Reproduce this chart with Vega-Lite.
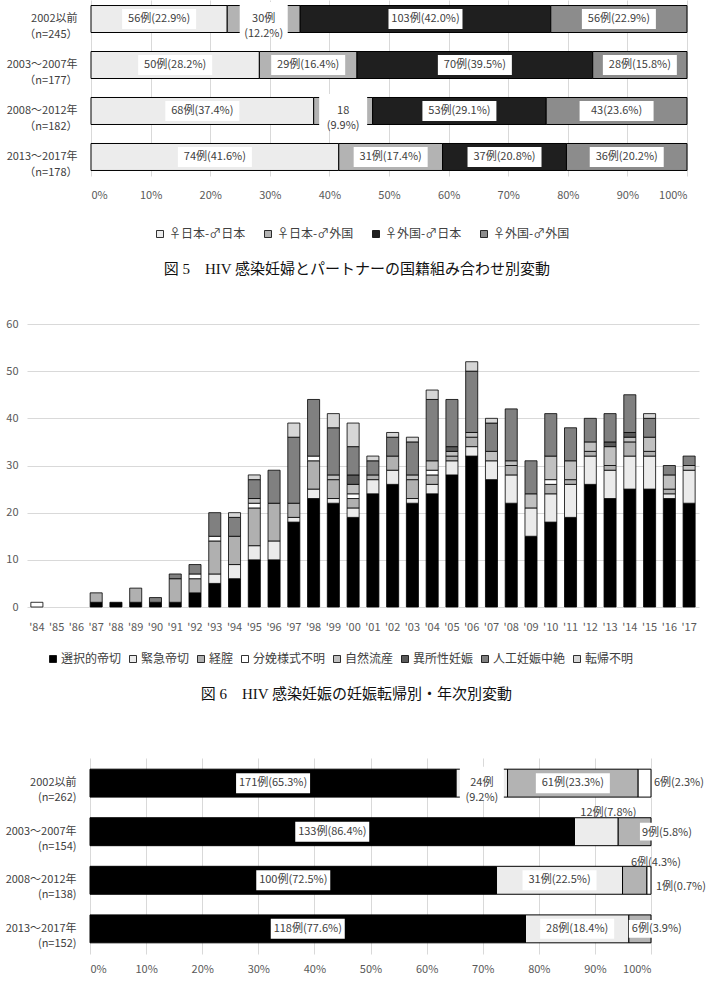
{
"$schema": "https://vega.github.io/schema/vega-lite/v6.json",
"padding": {"left": 5, "right": 0, "top": 0, "bottom": 0},
"background": "white",
"config": {
  "font": "Noto Sans CJK JP",
  "view": {"stroke": null},
  "axis": {"domain": false, "ticks": false, "labelColor": "#595959", "labelFontSize": 11, "gridColor": "#d9d9d9", "gridWidth": 1},
  "legend": {"direction": "horizontal", "symbolType": "square", "symbolSize": 49, "symbolStrokeColor": "#000", "symbolStrokeWidth": 0.8, "labelFontSize": 12, "labelColor": "#404040", "labelOffset": 3, "padding": 0}
},
"columns": 1,
"spacing": 41,
"resolve": {"scale": {"color": "independent"}, "legend": {"color": "independent"}},
"concat": [
{
  "width": 660, "height": 176,
  "data": {"values": [
    {"p": "2002以前|（n=245）", "c": "♀日本-♂日本", "n": 56, "lab": "56例(22.9%)"},
    {"p": "2002以前|（n=245）", "c": "♀日本-♂外国", "n": 30, "lab": ["30例", "(12.2%)"]},
    {"p": "2002以前|（n=245）", "c": "♀外国-♂日本", "n": 103, "lab": "103例(42.0%)"},
    {"p": "2002以前|（n=245）", "c": "♀外国-♂外国", "n": 56, "lab": "56例(22.9%)"},
    {"p": "2003～2007年|（n=177）", "c": "♀日本-♂日本", "n": 50, "lab": "50例(28.2%)"},
    {"p": "2003～2007年|（n=177）", "c": "♀日本-♂外国", "n": 29, "lab": "29例(16.4%)"},
    {"p": "2003～2007年|（n=177）", "c": "♀外国-♂日本", "n": 70, "lab": "70例(39.5%)"},
    {"p": "2003～2007年|（n=177）", "c": "♀外国-♂外国", "n": 28, "lab": "28例(15.8%)"},
    {"p": "2008～2012年|（n=182）", "c": "♀日本-♂日本", "n": 68, "lab": "68例(37.4%)"},
    {"p": "2008～2012年|（n=182）", "c": "♀日本-♂外国", "n": 18, "lab": ["18", "(9.9%)"]},
    {"p": "2008～2012年|（n=182）", "c": "♀外国-♂日本", "n": 53, "lab": "53例(29.1%)"},
    {"p": "2008～2012年|（n=182）", "c": "♀外国-♂外国", "n": 43, "lab": "43(23.6%)"},
    {"p": "2013～2017年|（n=178）", "c": "♀日本-♂日本", "n": 74, "lab": "74例(41.6%)"},
    {"p": "2013～2017年|（n=178）", "c": "♀日本-♂外国", "n": 31, "lab": "31例(17.4%)"},
    {"p": "2013～2017年|（n=178）", "c": "♀外国-♂日本", "n": 37, "lab": "37例(20.8%)"},
    {"p": "2013～2017年|（n=178）", "c": "♀外国-♂外国", "n": 36, "lab": "36例(20.2%)"}
  ]},
  "transform": [
    {"calculate": "indexof(['♀日本-♂日本','♀日本-♂外国','♀外国-♂日本','♀外国-♂外国'], datum.c)", "as": "k"},
    {"stack": "n", "groupby": ["p"], "sort": [{"field": "k", "order": "ascending"}], "offset": "normalize", "as": ["x0", "x1"]},
    {"calculate": "(datum.x0 + datum.x1) / 2", "as": "xm"}
  ],
  "title": {"text": "図 5　HIV 感染妊婦とパートナーの国籍組み合わせ別変動", "orient": "bottom", "anchor": "middle", "frame": "bounds", "fontSize": 15, "fontWeight": "normal", "color": "#111111", "offset": 22, "dx": 10, "font": "Liberation Serif, Noto Sans CJK JP"},
  "encoding": {
    "y": {"field": "p", "type": "nominal", "sort": null, "scale": {"paddingInner": 0.413, "paddingOuter": 0.12}, "axis": {"title": null, "offset": -64, "labelExpr": "split(datum.label, '|')", "labelPadding": 14, "labelColor": "#404040", "labelLineHeight": 16}}
  },
  "layer": [
    {"mark": {"type": "bar", "stroke": "#000", "strokeWidth": 1},
     "encoding": {
       "x": {"field": "x0", "type": "quantitative", "scale": {"domain": [0, 1], "range": [64, 660]}, "axis": {"title": null, "format": ".0%", "values": [0, 0.1, 0.2, 0.3, 0.4, 0.5, 0.6, 0.7, 0.8, 0.9, 1], "grid": true, "labelPadding": 13}},
       "x2": {"field": "x1"},
       "color": {"field": "c", "type": "nominal", "scale": {"domain": ["♀日本-♂日本", "♀日本-♂外国", "♀外国-♂日本", "♀外国-♂外国"], "range": ["#ececec", "#b3b3b3", "#1f1f1f", "#8c8c8c"]}, "legend": {"title": null, "orient": "none", "legendX": 127, "legendY": 228, "columnPadding": 16}}
     }},
    {"transform": [{"filter": "!isArray(datum.lab)"}],
     "mark": {"type": "point", "shape": "M-1,-0.27H1V0.27H-1Z", "size": 5476, "filled": true, "fill": "#ffffff", "strokeWidth": 0, "opacity": 1},
     "encoding": {"x": {"field": "xm", "type": "quantitative", "axis": {"title": null}}}},
    {"transform": [{"filter": "isArray(datum.lab)"}],
     "mark": {"type": "point", "shape": "M-1,-0.71H1V0.71H-1Z", "size": 2304, "filled": true, "fill": "#ffffff", "strokeWidth": 0, "opacity": 1},
     "encoding": {"x": {"field": "xm", "type": "quantitative", "axis": {"title": null}}}},
    {"mark": {"type": "text", "fontSize": 11, "color": "#404040", "lineHeight": 15},
     "encoding": {"x": {"field": "xm", "type": "quantitative", "axis": {"title": null}}, "text": {"field": "lab"}}}
  ]
},
{
  "columns": 1,
  "spacing": 56,
  "resolve": {"scale": {"color": "independent"}, "legend": {"color": "independent"}},
  "concat": [
  {
    "width": 672, "height": 283,
    "data": {"values": [
      {"y": "'84", "c": "分娩様式不明", "n": 1},
      {"y": "'87", "c": "選択的帝切", "n": 1}, {"y": "'87", "c": "経腟", "n": 2},
      {"y": "'88", "c": "選択的帝切", "n": 1},
      {"y": "'89", "c": "選択的帝切", "n": 1}, {"y": "'89", "c": "経腟", "n": 3},
      {"y": "'90", "c": "選択的帝切", "n": 1}, {"y": "'90", "c": "人工妊娠中絶", "n": 1},
      {"y": "'91", "c": "選択的帝切", "n": 1}, {"y": "'91", "c": "経腟", "n": 5}, {"y": "'91", "c": "人工妊娠中絶", "n": 1},
      {"y": "'92", "c": "選択的帝切", "n": 3}, {"y": "'92", "c": "経腟", "n": 3}, {"y": "'92", "c": "分娩様式不明", "n": 1}, {"y": "'92", "c": "人工妊娠中絶", "n": 2},
      {"y": "'93", "c": "選択的帝切", "n": 5}, {"y": "'93", "c": "緊急帝切", "n": 2}, {"y": "'93", "c": "経腟", "n": 7}, {"y": "'93", "c": "分娩様式不明", "n": 1}, {"y": "'93", "c": "人工妊娠中絶", "n": 5},
      {"y": "'94", "c": "選択的帝切", "n": 6}, {"y": "'94", "c": "緊急帝切", "n": 3}, {"y": "'94", "c": "経腟", "n": 6}, {"y": "'94", "c": "人工妊娠中絶", "n": 4}, {"y": "'94", "c": "転帰不明", "n": 1},
      {"y": "'95", "c": "選択的帝切", "n": 10}, {"y": "'95", "c": "緊急帝切", "n": 3}, {"y": "'95", "c": "経腟", "n": 8}, {"y": "'95", "c": "分娩様式不明", "n": 1}, {"y": "'95", "c": "自然流産", "n": 1}, {"y": "'95", "c": "人工妊娠中絶", "n": 4}, {"y": "'95", "c": "転帰不明", "n": 1},
      {"y": "'96", "c": "選択的帝切", "n": 10}, {"y": "'96", "c": "緊急帝切", "n": 4}, {"y": "'96", "c": "経腟", "n": 8}, {"y": "'96", "c": "人工妊娠中絶", "n": 7},
      {"y": "'97", "c": "選択的帝切", "n": 18}, {"y": "'97", "c": "緊急帝切", "n": 1}, {"y": "'97", "c": "経腟", "n": 3}, {"y": "'97", "c": "人工妊娠中絶", "n": 14}, {"y": "'97", "c": "転帰不明", "n": 3},
      {"y": "'98", "c": "選択的帝切", "n": 23}, {"y": "'98", "c": "緊急帝切", "n": 2}, {"y": "'98", "c": "経腟", "n": 6}, {"y": "'98", "c": "分娩様式不明", "n": 1}, {"y": "'98", "c": "人工妊娠中絶", "n": 12},
      {"y": "'99", "c": "選択的帝切", "n": 22}, {"y": "'99", "c": "緊急帝切", "n": 1}, {"y": "'99", "c": "経腟", "n": 4}, {"y": "'99", "c": "自然流産", "n": 1}, {"y": "'99", "c": "人工妊娠中絶", "n": 10}, {"y": "'99", "c": "転帰不明", "n": 3},
      {"y": "'00", "c": "選択的帝切", "n": 19}, {"y": "'00", "c": "緊急帝切", "n": 2}, {"y": "'00", "c": "経腟", "n": 2}, {"y": "'00", "c": "分娩様式不明", "n": 1}, {"y": "'00", "c": "自然流産", "n": 2}, {"y": "'00", "c": "異所性妊娠", "n": 2}, {"y": "'00", "c": "人工妊娠中絶", "n": 6}, {"y": "'00", "c": "転帰不明", "n": 5},
      {"y": "'01", "c": "選択的帝切", "n": 24}, {"y": "'01", "c": "緊急帝切", "n": 3}, {"y": "'01", "c": "経腟", "n": 1}, {"y": "'01", "c": "人工妊娠中絶", "n": 3}, {"y": "'01", "c": "転帰不明", "n": 1},
      {"y": "'02", "c": "選択的帝切", "n": 26}, {"y": "'02", "c": "緊急帝切", "n": 3}, {"y": "'02", "c": "経腟", "n": 3}, {"y": "'02", "c": "人工妊娠中絶", "n": 4}, {"y": "'02", "c": "転帰不明", "n": 1},
      {"y": "'03", "c": "選択的帝切", "n": 22}, {"y": "'03", "c": "緊急帝切", "n": 1}, {"y": "'03", "c": "経腟", "n": 4}, {"y": "'03", "c": "自然流産", "n": 1}, {"y": "'03", "c": "人工妊娠中絶", "n": 7}, {"y": "'03", "c": "転帰不明", "n": 1},
      {"y": "'04", "c": "選択的帝切", "n": 24}, {"y": "'04", "c": "緊急帝切", "n": 2}, {"y": "'04", "c": "経腟", "n": 2}, {"y": "'04", "c": "分娩様式不明", "n": 1}, {"y": "'04", "c": "自然流産", "n": 2}, {"y": "'04", "c": "人工妊娠中絶", "n": 13}, {"y": "'04", "c": "転帰不明", "n": 2},
      {"y": "'05", "c": "選択的帝切", "n": 28}, {"y": "'05", "c": "緊急帝切", "n": 3}, {"y": "'05", "c": "経腟", "n": 1}, {"y": "'05", "c": "自然流産", "n": 1}, {"y": "'05", "c": "異所性妊娠", "n": 1}, {"y": "'05", "c": "人工妊娠中絶", "n": 10},
      {"y": "'06", "c": "選択的帝切", "n": 32}, {"y": "'06", "c": "緊急帝切", "n": 2}, {"y": "'06", "c": "経腟", "n": 2}, {"y": "'06", "c": "自然流産", "n": 1}, {"y": "'06", "c": "人工妊娠中絶", "n": 13}, {"y": "'06", "c": "転帰不明", "n": 2},
      {"y": "'07", "c": "選択的帝切", "n": 27}, {"y": "'07", "c": "緊急帝切", "n": 4}, {"y": "'07", "c": "自然流産", "n": 2}, {"y": "'07", "c": "人工妊娠中絶", "n": 6}, {"y": "'07", "c": "転帰不明", "n": 1},
      {"y": "'08", "c": "選択的帝切", "n": 22}, {"y": "'08", "c": "緊急帝切", "n": 6}, {"y": "'08", "c": "経腟", "n": 2}, {"y": "'08", "c": "自然流産", "n": 1}, {"y": "'08", "c": "人工妊娠中絶", "n": 11},
      {"y": "'09", "c": "選択的帝切", "n": 15}, {"y": "'09", "c": "緊急帝切", "n": 6}, {"y": "'09", "c": "自然流産", "n": 3}, {"y": "'09", "c": "人工妊娠中絶", "n": 7},
      {"y": "'10", "c": "選択的帝切", "n": 18}, {"y": "'10", "c": "緊急帝切", "n": 6}, {"y": "'10", "c": "経腟", "n": 2}, {"y": "'10", "c": "分娩様式不明", "n": 1}, {"y": "'10", "c": "自然流産", "n": 5}, {"y": "'10", "c": "人工妊娠中絶", "n": 9},
      {"y": "'11", "c": "選択的帝切", "n": 19}, {"y": "'11", "c": "緊急帝切", "n": 7}, {"y": "'11", "c": "経腟", "n": 1}, {"y": "'11", "c": "自然流産", "n": 4}, {"y": "'11", "c": "人工妊娠中絶", "n": 7},
      {"y": "'12", "c": "選択的帝切", "n": 26}, {"y": "'12", "c": "緊急帝切", "n": 6}, {"y": "'12", "c": "経腟", "n": 1}, {"y": "'12", "c": "自然流産", "n": 2}, {"y": "'12", "c": "人工妊娠中絶", "n": 5},
      {"y": "'13", "c": "選択的帝切", "n": 23}, {"y": "'13", "c": "緊急帝切", "n": 6}, {"y": "'13", "c": "経腟", "n": 1}, {"y": "'13", "c": "自然流産", "n": 4}, {"y": "'13", "c": "異所性妊娠", "n": 1}, {"y": "'13", "c": "人工妊娠中絶", "n": 6},
      {"y": "'14", "c": "選択的帝切", "n": 25}, {"y": "'14", "c": "緊急帝切", "n": 7}, {"y": "'14", "c": "経腟", "n": 3}, {"y": "'14", "c": "自然流産", "n": 1}, {"y": "'14", "c": "異所性妊娠", "n": 1}, {"y": "'14", "c": "人工妊娠中絶", "n": 8},
      {"y": "'15", "c": "選択的帝切", "n": 25}, {"y": "'15", "c": "緊急帝切", "n": 7}, {"y": "'15", "c": "経腟", "n": 1}, {"y": "'15", "c": "自然流産", "n": 3}, {"y": "'15", "c": "人工妊娠中絶", "n": 4}, {"y": "'15", "c": "転帰不明", "n": 1},
      {"y": "'16", "c": "選択的帝切", "n": 23}, {"y": "'16", "c": "緊急帝切", "n": 1}, {"y": "'16", "c": "経腟", "n": 1}, {"y": "'16", "c": "自然流産", "n": 3}, {"y": "'16", "c": "人工妊娠中絶", "n": 2},
      {"y": "'17", "c": "選択的帝切", "n": 22}, {"y": "'17", "c": "緊急帝切", "n": 7}, {"y": "'17", "c": "自然流産", "n": 1}, {"y": "'17", "c": "人工妊娠中絶", "n": 2}
    ]},
    "transform": [
      {"calculate": "indexof(['選択的帝切','緊急帝切','経腟','分娩様式不明','自然流産','異所性妊娠','人工妊娠中絶','転帰不明'], datum.c)", "as": "k"}
    ],
    "title": {"text": "図 6　HIV 感染妊娠の妊娠転帰別・年次別変動", "orient": "bottom", "anchor": "middle", "frame": "bounds", "fontSize": 15, "fontWeight": "normal", "color": "#111111", "offset": 22, "dx": 4, "font": "Liberation Serif, Noto Sans CJK JP"},
    "mark": {"type": "bar", "stroke": "#000", "strokeWidth": 0.8},
    "encoding": {
      "x": {"field": "y", "type": "nominal", "scale": {"domain": ["'84","'85","'86","'87","'88","'89","'90","'91","'92","'93","'94","'95","'96","'97","'98","'99","'00","'01","'02","'03","'04","'05","'06","'07","'08","'09","'10","'11","'12","'13","'14","'15","'16","'17"], "paddingInner": 0.39, "paddingOuter": 0.195}, "axis": {"title": null, "labelAngle": 0, "labelPadding": 14, "grid": false}},
      "y": {"field": "n", "type": "quantitative", "stack": "zero", "scale": {"domain": [0, 60]}, "axis": {"title": null, "values": [0, 10, 20, 30, 40, 50, 60], "grid": true, "labelPadding": 9}},
      "color": {"field": "c", "type": "nominal", "scale": {"domain": ["選択的帝切", "緊急帝切", "経腟", "分娩様式不明", "自然流産", "異所性妊娠", "人工妊娠中絶", "転帰不明"], "range": ["#000000", "#ebebeb", "#b0b0b0", "#ffffff", "#c0c0c0", "#5a5a5a", "#808080", "#d6d6d6"]}, "legend": {"title": null, "orient": "none", "legendX": 20, "legendY": 329, "columnPadding": 5, "labelOffset": 2}},
      "order": {"field": "k", "type": "quantitative", "sort": "ascending"}
    }
  },
  {
    "width": 624, "height": 196,
    "data": {"values": [
      {"p": "2002以前|(n=262)", "c": "選択的帝切", "n": 171, "lab": "171例(65.3%)"},
      {"p": "2002以前|(n=262)", "c": "緊急帝切", "n": 24, "lab": ["24例", "(9.2%)"]},
      {"p": "2002以前|(n=262)", "c": "経腟", "n": 61, "lab": "61例(23.3%)"},
      {"p": "2002以前|(n=262)", "c": "分娩様式不明", "n": 6, "lab": "6例(2.3%)"},
      {"p": "2003～2007年|(n=154)", "c": "選択的帝切", "n": 133, "lab": "133例(86.4%)"},
      {"p": "2003～2007年|(n=154)", "c": "緊急帝切", "n": 12, "lab": "12例(7.8%)"},
      {"p": "2003～2007年|(n=154)", "c": "経腟", "n": 9, "lab": "9例(5.8%)"},
      {"p": "2008～2012年|(n=138)", "c": "選択的帝切", "n": 100, "lab": "100例(72.5%)"},
      {"p": "2008～2012年|(n=138)", "c": "緊急帝切", "n": 31, "lab": "31例(22.5%)"},
      {"p": "2008～2012年|(n=138)", "c": "経腟", "n": 6, "lab": "6例(4.3%)"},
      {"p": "2008～2012年|(n=138)", "c": "分娩様式不明", "n": 1, "lab": "1例(0.7%)"},
      {"p": "2013～2017年|(n=152)", "c": "選択的帝切", "n": 118, "lab": "118例(77.6%)"},
      {"p": "2013～2017年|(n=152)", "c": "緊急帝切", "n": 28, "lab": "28例(18.4%)"},
      {"p": "2013～2017年|(n=152)", "c": "経腟", "n": 6, "lab": "6例(3.9%)"}
    ]},
    "transform": [
      {"calculate": "indexof(['選択的帝切','緊急帝切','経腟','分娩様式不明'], datum.c)", "as": "k"},
      {"stack": "n", "groupby": ["p"], "sort": [{"field": "k", "order": "ascending"}], "offset": "normalize", "as": ["x0", "x1"]},
      {"calculate": "(datum.x0 + datum.x1) / 2", "as": "xm"}
    ],
    "encoding": {
      "y": {"field": "p", "type": "nominal", "sort": null, "scale": {"paddingInner": 0.425, "paddingOuter": 0.23}, "axis": {"title": null, "offset": -63, "labelExpr": "split(datum.label, '|')", "labelPadding": 14, "labelColor": "#404040", "labelLineHeight": 15}}
    },
    "layer": [
      {"mark": {"type": "bar", "stroke": "#000", "strokeWidth": 1},
       "encoding": {
         "x": {"field": "x0", "type": "quantitative", "scale": {"domain": [0, 1], "range": [63, 624]}, "axis": {"title": null, "format": ".0%", "values": [0, 0.1, 0.2, 0.3, 0.4, 0.5, 0.6, 0.7, 0.8, 0.9, 1], "grid": true, "labelPadding": 9}},
         "x2": {"field": "x1"},
         "color": {"field": "c", "type": "nominal", "scale": {"domain": ["選択的帝切", "緊急帝切", "経腟", "分娩様式不明"], "range": ["#000000", "#ececec", "#b3b3b3", "#ffffff"]}, "legend": null}
       }},
      {"transform": [{"filter": "!isArray(datum.lab) && indexof(['6例(2.3%)','12例(7.8%)','9例(5.8%)','6例(4.3%)','1例(0.7%)','6例(3.9%)'], datum.lab) < 0"}],
       "mark": {"type": "point", "shape": "M-1,-0.27H1V0.27H-1Z", "size": 5476, "filled": true, "fill": "#ffffff", "strokeWidth": 0, "opacity": 1},
       "encoding": {"x": {"field": "xm", "type": "quantitative", "axis": {"title": null}}}},
      {"transform": [{"filter": "isArray(datum.lab)"}],
       "mark": {"type": "point", "shape": "M-1,-0.75H1V0.75H-1Z", "size": 1936, "filled": true, "fill": "#ffffff", "strokeWidth": 0, "opacity": 1},
       "encoding": {"x": {"field": "xm", "type": "quantitative", "axis": {"title": null}}}},
      {"transform": [{"filter": "indexof(['6例(2.3%)','12例(7.8%)','9例(5.8%)','6例(4.3%)','1例(0.7%)','6例(3.9%)'], datum.lab) < 0"}],
       "mark": {"type": "text", "fontSize": 11, "color": "#404040", "lineHeight": 15},
       "encoding": {"x": {"field": "xm", "type": "quantitative", "axis": {"title": null}}, "text": {"field": "lab"}}},
      {"transform": [{"filter": "datum.lab == '9例(5.8%)'"}],
       "mark": {"type": "point", "shape": "M-0.41,-0.33H1.6V0.33H-0.41Z", "size": 2916, "filled": true, "fill": "#ffffff", "strokeWidth": 0, "opacity": 1},
       "encoding": {"x": {"field": "x1", "type": "quantitative", "axis": {"title": null}}}},
      {"transform": [{"filter": "datum.lab == '6例(3.9%)'"}],
       "mark": {"type": "point", "shape": "M0,-0.33H2V0.33H0Z", "size": 2916, "filled": true, "fill": "#ffffff", "strokeWidth": 0, "opacity": 1},
       "encoding": {"x": {"field": "x0", "type": "quantitative", "axis": {"title": null}}}},
      {"transform": [{"filter": "datum.lab == '6例(2.3%)'"}],
       "mark": {"type": "text", "fontSize": 11, "color": "#404040", "align": "left", "dx": 3},
       "encoding": {"x": {"field": "x1", "type": "quantitative", "axis": {"title": null}}, "text": {"field": "lab"}}},
      {"transform": [{"filter": "datum.lab == '12例(7.8%)'"}],
       "mark": {"type": "text", "fontSize": 11, "color": "#404040", "align": "center", "dx": 12, "dy": -19},
       "encoding": {"x": {"field": "xm", "type": "quantitative", "axis": {"title": null}}, "text": {"field": "lab"}}},
      {"transform": [{"filter": "datum.lab == '9例(5.8%)'"}],
       "mark": {"type": "text", "fontSize": 11, "color": "#404040", "align": "left", "dx": -9, "dy": 1},
       "encoding": {"x": {"field": "x1", "type": "quantitative", "axis": {"title": null}}, "text": {"field": "lab"}}},
      {"transform": [{"filter": "datum.lab == '6例(4.3%)'"}],
       "mark": {"type": "text", "fontSize": 11, "color": "#404040", "align": "center", "dx": 9, "dy": -17},
       "encoding": {"x": {"field": "x1", "type": "quantitative", "axis": {"title": null}}, "text": {"field": "lab"}}},
      {"transform": [{"filter": "datum.lab == '1例(0.7%)'"}],
       "mark": {"type": "text", "fontSize": 11, "color": "#404040", "align": "left", "dx": 5, "dy": 7},
       "encoding": {"x": {"field": "x1", "type": "quantitative", "axis": {"title": null}}, "text": {"field": "lab"}}},
      {"transform": [{"filter": "datum.lab == '6例(3.9%)'"}],
       "mark": {"type": "text", "fontSize": 11, "color": "#404040", "align": "left", "dx": 3},
       "encoding": {"x": {"field": "x0", "type": "quantitative", "axis": {"title": null}}, "text": {"field": "lab"}}}
    ]
  }
  ]
}
]
}
